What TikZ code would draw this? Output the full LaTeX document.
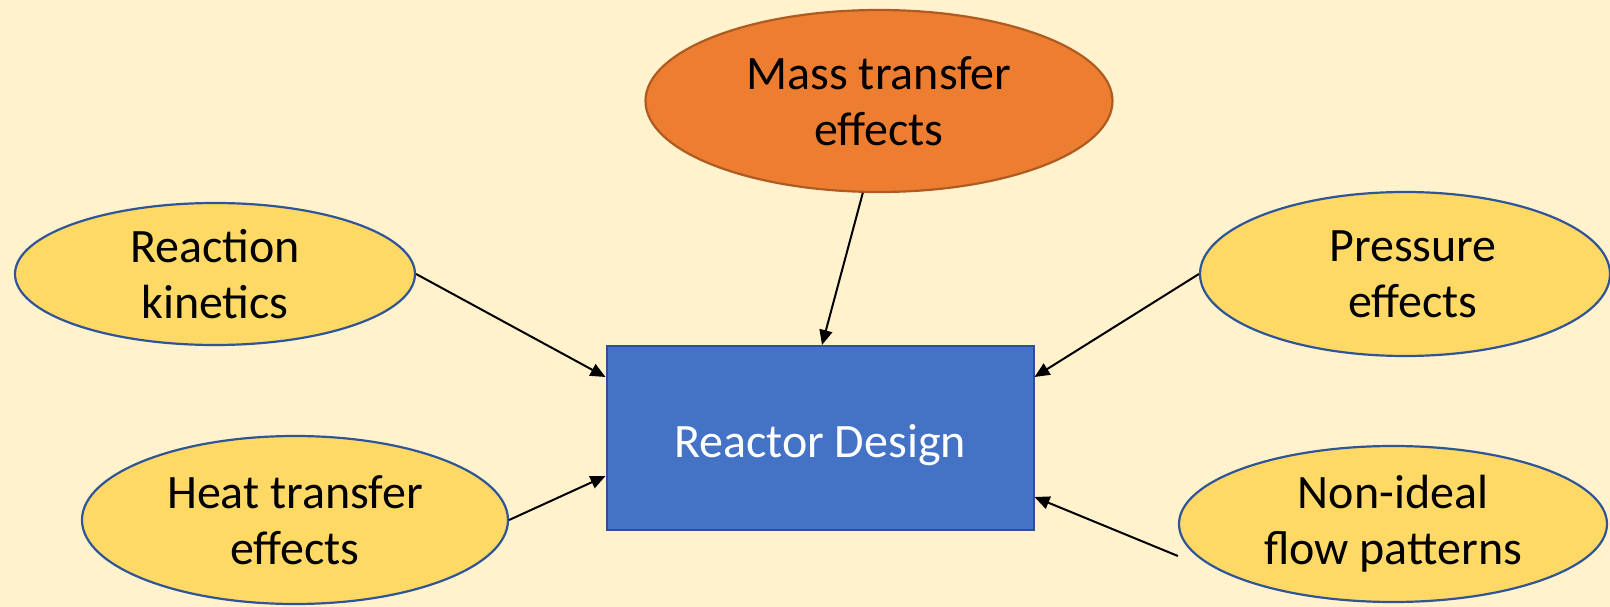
\documentclass[tikz,border=0pt]{standalone}
\usepackage{fontspec}
\setmainfont{Carlito}
\usetikzlibrary{arrows.meta,shapes.geometric}
\definecolor{bg}{HTML}{FFF2CC}
\definecolor{yel}{HTML}{FFD966}
\definecolor{yelline}{HTML}{2F5597}
\definecolor{org}{HTML}{ED7D31}
\definecolor{orgline}{HTML}{AE5A21}
\definecolor{blu}{HTML}{4472C4}
\definecolor{bluline}{HTML}{2F528F}
\tikzset{
  factor/.style={ellipse, draw=yelline, fill=yel, line width=2.2pt, inner sep=0pt,
    align=center, font=\fontsize{48}{56}\selectfont},
  mainfactor/.style={factor, draw=orgline, fill=org},
  centerbox/.style={rectangle, draw=bluline, fill=blu, line width=2pt, inner sep=0pt,
    minimum width=427pt, minimum height=184pt, text=white, font=\fontsize{48}{56}\selectfont},
  arr/.style={-{Triangle[length=15pt,width=13pt]}, line width=2pt, black}
}
\begin{document}
\begin{tikzpicture}[x=1pt,y=-1pt]
\fill[bg] (0,0) rectangle (1610,607);
\useasboundingbox (0,0) rectangle (1610,607);
\clip (0,0) rectangle (1610,607);
\node[centerbox, text depth=0pt] (rd) at (820,438) {\raisebox{-6pt}{Reactor Design}};
\node[mainfactor, minimum width=467pt, minimum height=182pt] (mt) at (879,101) {Mass transfer\\effects};
\node[factor, minimum width=400pt, minimum height=142pt] (rk) at (215,274) {Reaction\\kinetics};
\node[factor, minimum width=410pt, minimum height=164pt] (pe) at (1405,274) {\hspace*{16pt}Pressure\\\hspace*{16pt}effects};
\node[factor, minimum width=426pt, minimum height=168pt] (ht) at (295,520) {Heat transfer\\effects};
\node[factor, minimum width=428pt, minimum height=156pt] (ni) at (1393,524) {Non-ideal\\flow patterns};
\draw[arr] (mt.260) -- ([xshift=2pt]rd.north);
\draw[arr] (rk.east) -- ([yshift=61pt]rd.west);
\draw[arr] (pe.west) -- ([yshift=61pt]rd.east);
\draw[arr] (ht.east) -- ([yshift=-38pt]rd.west);
\draw[arr] ([yshift=-32pt]ni.west) -- ([yshift=-59pt]rd.east);
\end{tikzpicture}
\end{document}
